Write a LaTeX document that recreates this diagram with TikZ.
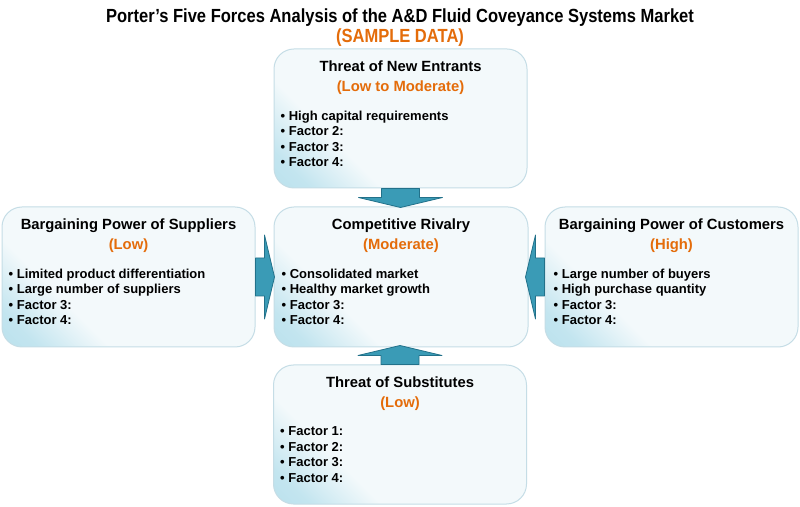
\documentclass[tikz,border=0pt]{standalone}
\usepackage{fontspec}
\setmainfont{Liberation Sans}
\newfontfamily\titlefont[FakeStretch=0.87]{Liberation Sans}
\usetikzlibrary{positioning,calc}
\definecolor{rateorange}{HTML}{E46C0A}
\definecolor{boxline}{HTML}{C5DDE6}
\definecolor{boxtint}{HTML}{A9DAE9}
\definecolor{boxwhite}{HTML}{F3F9FB}
\definecolor{arrowfill}{HTML}{3A9BB6}
\definecolor{arrowline}{HTML}{22718A}
\pgfdeclarehorizontalshading{boxshade}{100bp}{color(0bp)=(boxtint); color(21bp)=(boxtint!65!boxwhite); color(34bp)=(boxwhite); color(100bp)=(boxwhite)}
\begin{document}
\begin{tikzpicture}[x=1pt,y=1pt,font=\bfseries,line join=round,
  forcebox/.style={draw=boxline,line width=1pt,rounded corners=20pt,shading=boxshade,shading angle=45,
    minimum width=253pt,minimum height=139pt,inner sep=0pt},
  headtext/.style={anchor=base,inner sep=0pt,font=\fontsize{14.8}{17}\selectfont\bfseries},
  ratetext/.style={headtext,text=rateorange},
  listtext/.style={anchor=north west,inner sep=0pt,align=left,font=\fontsize{13}{15.6}\selectfont\bfseries},
  pics/fatarrow/.style={code={
    \draw[fill=arrowfill,draw=arrowline,line width=0.8pt] (-19,0) -- (-19,-9) -- (-42,-9) -- (0,-19) -- (42,-9) -- (19,-9) -- (19,0) -- cycle;}}]
 \fill[white] (0,0) rectangle (800,506);
 \useasboundingbox (0,0) rectangle (800,506);
 % title
 \node[inner sep=0pt,anchor=base] (title) at (400,483) {\titlefont\fontsize{19}{21}\selectfont\bfseries Porter’s Five Forces Analysis of the A\&D Fluid Coveyance Systems Market};
 \node[inner sep=0pt,anchor=base,text=rateorange] (sample) at (400,463) {\titlefont\fontsize{19}{21}\selectfont\bfseries (SAMPLE DATA)};
 % the five boxes
 \node[forcebox] (entry) at (400.5,387.5) {};
 \node[forcebox,minimum height=140pt] (supp) at (128.5,229) {};
 \node[forcebox,minimum height=140pt,minimum width=254pt] (rival) at (401,229) {};
 \node[forcebox,minimum height=140pt] (cust) at (671.5,229) {};
 \node[forcebox] (subst) at (400,71.5) {};
 % arrows into the centre box
 \pic at (entry.south) {fatarrow};
 \pic[rotate=180] at (subst.north) {fatarrow};
 \pic[rotate=90] at (supp.east) {fatarrow};
 \pic[rotate=-90] at (cust.west) {fatarrow};
 % texts
 \node[headtext] (entryhead) at ([yshift=-23]entry.north) {Threat of New Entrants};
 \node[ratetext] (entryrate) at ([yshift=-43]entry.north) {(Low to Moderate)};
 \node[listtext] (entrylist) at ([shift={(7,-62)}]entry.north west)
   {\textbullet\ High capital requirements\\ \textbullet\ Factor 2:\\ \textbullet\ Factor 3:\\ \textbullet\ Factor 4:};
 \node[headtext] (supphead) at ([yshift=-23]supp.north) {Bargaining Power of Suppliers};
 \node[ratetext] (supprate) at ([yshift=-43]supp.north) {(Low)};
 \node[listtext] (supplist) at ([shift={(7,-62)}]supp.north west)
   {\textbullet\ Limited product differentiation\\ \textbullet\ Large number of suppliers\\ \textbullet\ Factor 3:\\ \textbullet\ Factor 4:};
 \node[headtext] (rivalhead) at ([yshift=-23]rival.north) {Competitive Rivalry};
 \node[ratetext] (rivalrate) at ([yshift=-43]rival.north) {(Moderate)};
 \node[listtext] (rivallist) at ([shift={(8,-62)}]rival.north west)
   {\textbullet\ Consolidated market\\ \textbullet\ Healthy market growth\\ \textbullet\ Factor 3:\\ \textbullet\ Factor 4:};
 \node[headtext] (custhead) at ([yshift=-23]cust.north) {Bargaining Power of Customers};
 \node[ratetext] (custrate) at ([yshift=-43]cust.north) {(High)};
 \node[listtext] (custlist) at ([shift={(9,-62)}]cust.north west)
   {\textbullet\ Large number of buyers\\ \textbullet\ High purchase quantity\\ \textbullet\ Factor 3:\\ \textbullet\ Factor 4:};
 \node[headtext] (substhead) at ([yshift=-23]subst.north) {Threat of Substitutes};
 \node[ratetext] (substrate) at ([yshift=-43]subst.north) {(Low)};
 \node[listtext] (substlist) at ([shift={(7,-62)}]subst.north west)
   {\textbullet\ Factor 1:\\ \textbullet\ Factor 2:\\ \textbullet\ Factor 3:\\ \textbullet\ Factor 4:};
\end{tikzpicture}
\end{document}
